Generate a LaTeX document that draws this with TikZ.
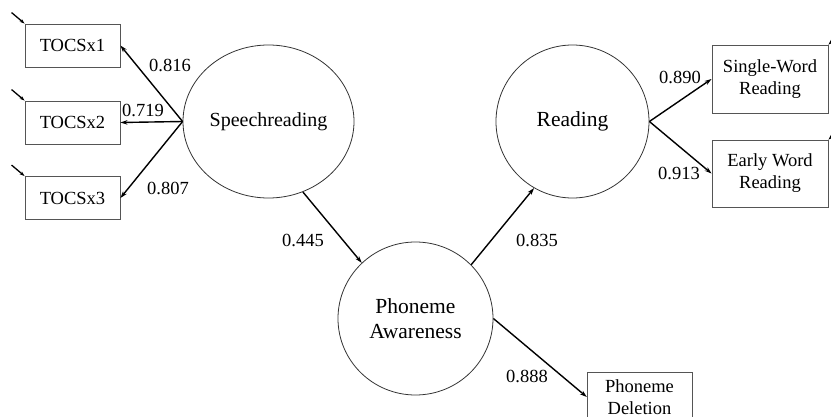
\documentclass[tikz,border=0pt]{standalone}
\usepackage{fontspec}
\setmainfont{Liberation Serif}
\usetikzlibrary{shapes.geometric,arrows.meta,calc}
\definecolor{boxgray}{HTML}{555555}
\definecolor{circgray}{HTML}{333333}
\begin{document}
\begin{tikzpicture}[x=1pt,y=-1pt,
  obs/.style={draw=boxgray, line width=0.9pt, rectangle, inner sep=0pt, minimum width=95pt, minimum height=43pt, font=\fontsize{18.5}{22}\selectfont, align=center},
  lat/.style={draw=circgray, line width=0.8pt, ellipse, inner sep=0pt, font=\fontsize{21.5}{24.5}\selectfont, align=center},
  conn/.style={line width=1.4pt, -{Stealth[length=7pt,width=4.5pt]}},
  err/.style={line width=1.3pt, -{Stealth[length=5pt,width=3.5pt]}},
  lbl/.style={font=\fontsize{18.5}{22}\selectfont, inner sep=0pt}]
\useasboundingbox (0,0) rectangle (831,417);
% observed
\node[obs] (t1) at (72.5,45.5) {TOCSx1};
\node[obs] (t2) at (72.5,122.5) {TOCSx2};
\node[obs] (t3) at (72.5,198) {TOCSx3};
\node[obs, minimum width=116pt, minimum height=68pt] (sw) at (770,79) {Single-Word\\Reading};
\node[obs, minimum width=116pt, minimum height=67pt] (ew) at (770,173.5) {Early Word\\Reading};
\draw[draw=boxgray, line width=0.9pt] (587,430) -- (587,372) -- (692,372) -- (692,430);
\node[minimum width=105pt, minimum height=52pt, inner sep=0pt, font=\fontsize{18.5}{22.5}\selectfont, align=center] (pd) at (639.5,397) {Phoneme\\Deletion};
% latent
\node[lat, minimum width=171pt, minimum height=153pt, font=\fontsize{20}{24}\selectfont] (s) at (268.5,121.5) {Speechreading};
\node[lat, minimum width=153pt, minimum height=153pt] (r) at (572.5,121.5) {Reading};
\node[lat, minimum width=155pt, minimum height=153pt] (pa) at (415.5,318.5) {Phoneme\\Awareness};
% connectors
\draw[conn] (s.west) -- (t1.east);
\draw[conn] (s.west) -- (t2.east);
\draw[conn] (s.west) -- (t3.east);
\draw[conn] (r.east) -- (sw.west);
\draw[conn] (r.east) -- (ew.west);
\draw[conn] (s.-64) -- (pa.134);
\draw[conn] (pa.44.5) -- (r.240);
\draw[conn] (pa.east) -- (pd.west);
% error arrows
\coordinate (e1) at ($(t1.north west)+(-13,-11)$);
\coordinate (e2) at ($(t2.north west)+(-13,-11)$);
\coordinate (e3) at ($(t3.north west)+(-13,-11)$);
\coordinate (e4) at ($(sw.north east)+(11,-10)$);
\coordinate (e5) at ($(ew.north east)+(11,-10)$);
\draw[err] (e1) -- (t1.north west);
\draw[err] (e2) -- (t2.north west);
\draw[err] (e3) -- (t3.north west);
\draw[err] (e4) -- (sw.north east);
\draw[err] (e5) -- (ew.north east);
% labels
\node[lbl] (l1) at (170,65) {0.816};
\node[lbl] (l2) at (143,110) {0.719};
\node[lbl] (l3) at (168,188) {0.807};
\node[lbl] (l4) at (303,240) {0.445};
\node[lbl] (l5) at (537,240) {0.835};
\node[lbl] (l6) at (527,376) {0.888};
\node[lbl] (l7) at (680,77) {0.890};
\node[lbl] (l8) at (679,173) {0.913};
\end{tikzpicture}
\end{document}
